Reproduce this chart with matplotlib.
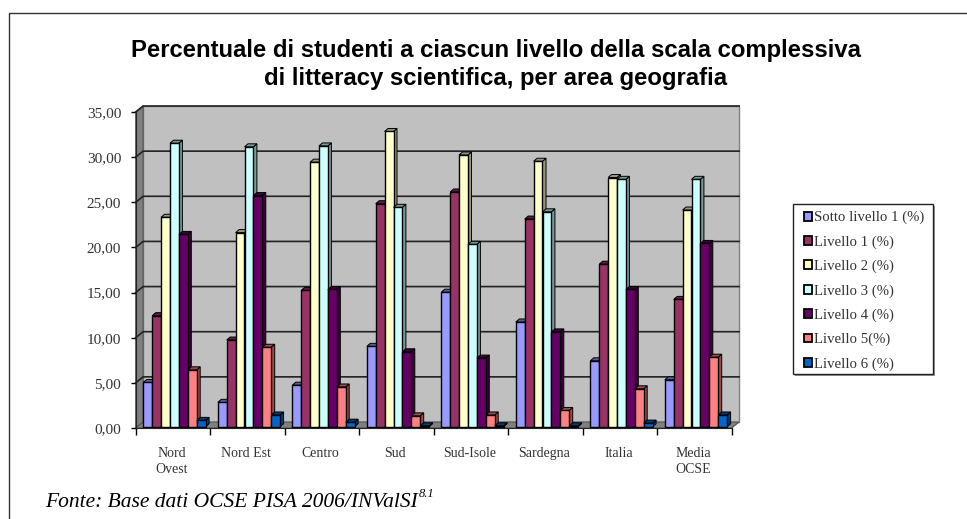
import matplotlib
matplotlib.use("Agg")
import matplotlib.pyplot as plt
from matplotlib.patches import Polygon, Rectangle, Patch

W, H = 967, 519

aree = ['Nord\nOvest', 'Nord Est', 'Centro', 'Sud', 'Sud-Isole', 'Sardegna', 'Italia', 'Media\nOCSE']
sotto_1 = [4.9, 2.7, 4.6, 8.9, 14.9, 11.6, 7.3, 5.2]
livello_1 = [12.3, 9.6, 15.1, 24.7, 26.0, 23.0, 18.0, 14.1]
livello_2 = [23.2, 21.5, 29.3, 32.7, 30.1, 29.4, 27.6, 24.0]
livello_3 = [31.4, 31.0, 31.1, 24.3, 20.2, 23.8, 27.4, 27.4]
livello_4 = [21.3, 25.6, 15.2, 8.3, 7.6, 10.5, 15.2, 20.3]
livello_5 = [6.3, 8.8, 4.4, 1.2, 1.3, 1.8, 4.2, 7.7]
livello_6 = [0.7, 1.3, 0.5, 0.1, 0.1, 0.1, 0.4, 1.3]
serie = [sotto_1, livello_1, livello_2, livello_3, livello_4, livello_5, livello_6]
nomi = ['Sotto livello 1 (%)', 'Livello 1 (%)', 'Livello 2 (%)', 'Livello 3 (%)',
        'Livello 4 (%)', 'Livello 5(%)', 'Livello 6 (%)']
colori = ['#9999ff', '#993366', '#ffffcc', '#ccffff', '#660066', '#ff8080', '#0066cc']
lati = ['#5c5c99', '#5c1f3d', '#99997a', '#7a9999', '#3d003d', '#994d4d', '#003d7a']

fig = plt.figure(figsize=(W / 100, H / 100), dpi=100)
fig.patch.set_facecolor('white')

# cornice esterna (solo alto e sinistra)
fig.add_artist(plt.Line2D([8.5 / W, 8.5 / W, 1], [0, 1 - 12.5 / H, 1 - 12.5 / H], color='#333333', lw=1))

left, right, top, bottom = 135.7, 731.7, 112, 428
ax = fig.add_axes([left / W, 1 - bottom / H, (right - left) / W, (bottom - top) / H])
ax.set_xlim(0, 8)
ax.set_ylim(0, 35)
ax.patch.set_visible(False)

# prospettiva finta: parete di fondo spostata
px_x = (right - left) / 8
px_y = (bottom - top) / 35
wx, wy = 7.4 / px_x, 6 / px_y
dx, dy = 3.5 / px_x, 3 / px_y
base = 1.3 / px_y
bw = 8.9 / px_x
start = 7.6 / px_x

ax.add_patch(Polygon([(wx, wy), (8 + wx, wy), (8 + wx, 35 + wy), (wx, 35 + wy)], fc='#c0c0c0', ec='#808080', lw=1, clip_on=False, zorder=1))
ax.add_patch(Polygon([(0, 0), (wx, wy), (wx, 35 + wy), (0, 35)], fc='#808080', ec='#555555', lw=0.8, clip_on=False, zorder=1))
ax.add_patch(Polygon([(0, 0), (8, 0), (8 + wx, wy), (wx, wy)], fc='#808080', ec='#555555', lw=0.8, clip_on=False, zorder=1))
for v in range(5, 36, 5):
    ax.plot([0, wx, 8 + wx], [v, v + wy, v + wy], color='#222222', lw=1.2, clip_on=False, zorder=2)

z = 3
for i in range(len(aree)):
    for j, vals in enumerate(serie):
        v = vals[i]
        x0 = i + start + j * bw
        y1 = base + v
        ax.bar(x0, v, bw, bottom=base, align='edge', color=colori[j], edgecolor='black', lw=1, clip_on=False, zorder=z + 1)
        ax.add_patch(Polygon([(x0 + bw, base), (x0 + bw + dx, base + dy), (x0 + bw + dx, y1 + dy), (x0 + bw, y1)],
                             fc=lati[j], ec='black', lw=0.7, clip_on=False, zorder=z))
        ax.add_patch(Polygon([(x0, y1), (x0 + dx, y1 + dy), (x0 + bw + dx, y1 + dy), (x0 + bw, y1)],
                             fc=lati[j], ec='black', lw=0.7, clip_on=False, zorder=z))
        z += 2

for s in ['top', 'right']:
    ax.spines[s].set_visible(False)
for s in ['left', 'bottom']:
    ax.spines[s].set_color('#222222')
    ax.spines[s].set_zorder(z + 1)

ax.set_yticks(range(0, 36, 5))
ax.set_yticklabels([f'{v:.2f}'.replace('.', ',') for v in range(0, 36, 5)],
                   family='Liberation Serif', fontsize=11, color='#333333')
ax.set_xticks(range(9))
ax.set_xticklabels([])
ax.tick_params(axis='y', length=3.5, width=1, pad=7)
ax.tick_params(axis='x', length=5, width=1)
for i, nome in enumerate(aree):
    ax.annotate(nome, (i + 0.5, 0), xytext=(-1, -13.5), textcoords='offset points',
                ha='center', va='top', family='Liberation Serif', fontsize=10, color='#333333', linespacing=1.35)

titolo = ['Percentuale di studenti a ciascun livello della scala complessiva',
          'di litteracy scientifica, per area geografia']
fig.text(496 / W, 1 - 50.5 / H, titolo[0], ha='center', va='center', family='Liberation Sans',
         fontweight='bold', fontsize=17.2, color='black')
fig.text(496 / W, 1 - 78.5 / H, titolo[1], ha='center', va='center', family='Liberation Sans',
         fontweight='bold', fontsize=17.2, color='black')

fig.text(45 / W, 1 - 507 / H, 'Fonte: Base dati OCSE PISA 2006/INValSI',
         ha='left', va='baseline', family='Liberation Serif', style='italic', fontsize=15.5, color='black')
fig.text(418.5 / W, 1 - 497 / H, '8.1', ha='left', va='baseline', family='Liberation Serif',
         style='italic', fontsize=9, color='black')

# riquadro legenda con ombra grigia
fig.add_artist(Rectangle((794.5 / W, 1 - 375.5 / H), 140 / W, 170 / H, transform=fig.transFigure,
                         fc='#999999', ec='none'))
fig.add_artist(Rectangle((793 / W, 1 - 374 / H), 140 / W, 170 / H, transform=fig.transFigure,
                         fc='white', ec='#222222', lw=1))

handles = [Patch(fc=c, ec='black', lw=1.3) for c in colori]
leg = fig.legend(handles, nomi, loc='upper left', bbox_to_anchor=(804 / W, 1 - 211 / H),
                 borderaxespad=0, borderpad=0, frameon=False,
                 prop={'family': 'Liberation Serif', 'size': 10.6}, labelspacing=0.74,
                 handlelength=0.55, handleheight=0.55, handletextpad=0.15)
leg.set_zorder(5)
for t in leg.get_texts():
    t.set_color('#333333')

fig.savefig('out.png', dpi=100)
